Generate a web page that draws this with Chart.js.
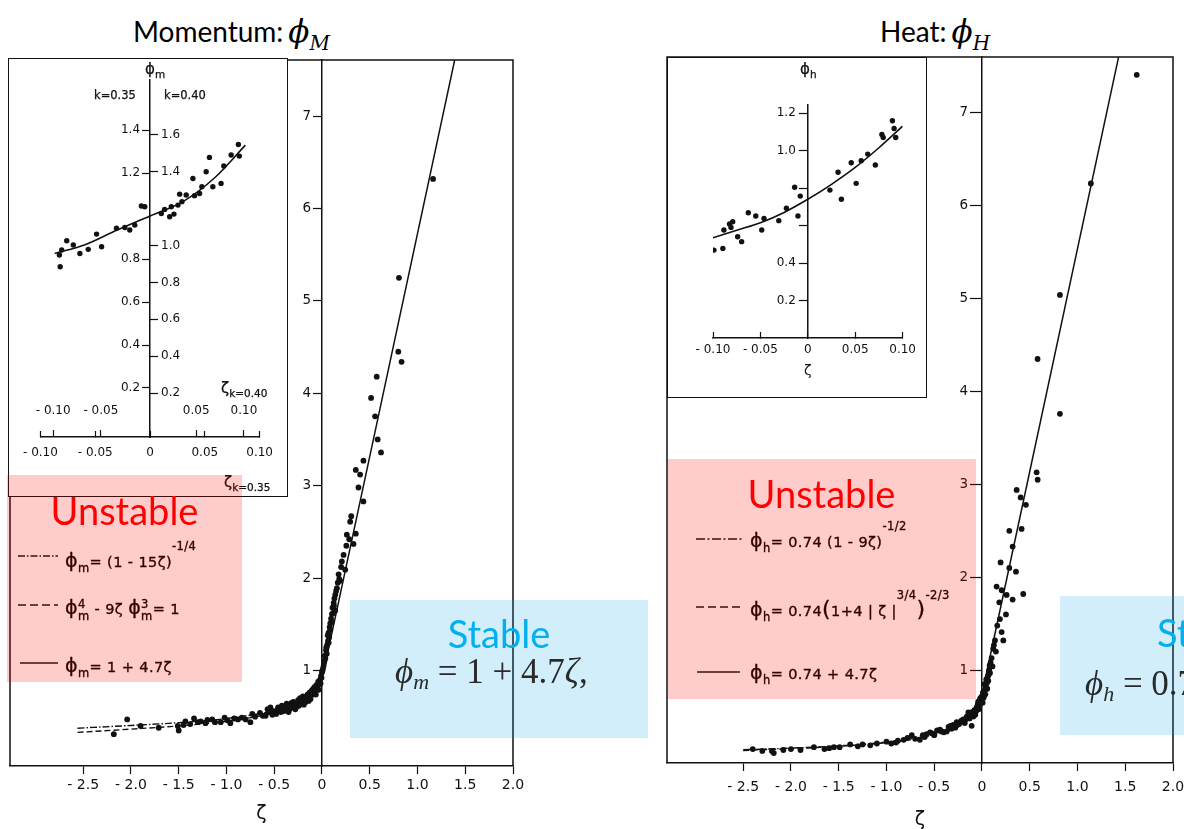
<!DOCTYPE html>
<html>
<head>
<meta charset="utf-8">
<title>Flux-profile relations</title>
<script src="https://cdn.jsdelivr.net/npm/chart.js@4.4.1/dist/chart.umd.min.js"></script>
<style>
  html, body { margin: 0; padding: 0; background: #fff; }
  body { position: relative; width: 1184px; height: 829px; overflow: hidden; font-family: 'DejaVu Sans', sans-serif; color: #111; }
  canvas, svg { position: absolute; }
  .box { position: absolute; box-sizing: border-box; border: 1.5px solid #111; background: #fff; }
  .title { position: absolute; font-family: Lato, sans-serif; font-size: 28px; line-height: 34px; white-space: nowrap; color: #000; }
  .title .v { font-family: 'DejaVu Serif', serif; font-style: italic; font-size: 31px; margin-left: 5px; }
  .title .s { font-family: 'DejaVu Serif', serif; font-style: italic; font-size: 20px; position: relative; top: 8px; }
  .txt { position: absolute; white-space: nowrap; line-height: 1; color: #111; -webkit-text-stroke: 0.25px #111; }
  .txt .ks { font-size: 10.5px; position: relative; top: 4px; }
  .lg { position: absolute; font-size: 14.5px; line-height: 20px; white-space: nowrap; letter-spacing: 0.4px; color: #000; -webkit-text-stroke: 0.35px #000; }
  .lg .f { font-size: 19px; }
  .lg .sb { font-size: 11.5px; position: relative; top: 5px; }
  .lg .sp { font-size: 11.5px; position: relative; top: -17px; }
  .lg .st { display: inline-block; font-size: 11.5px; line-height: 12px; vertical-align: middle; }
  .lg .pp { font-size: 22px; }
  .veil { position: absolute; }
  .pink { background: rgba(255, 0, 0, 0.2); }
  .blue { background: rgba(0, 160, 230, 0.18); }
  .big { position: absolute; font-family: Lato, sans-serif; font-size: 38px; line-height: 40px; text-align: center; white-space: nowrap; }
  .red { color: #ff0000; }
  .cyan { color: #00b0f0; }
  .eq { position: absolute; font-family: 'Liberation Serif', serif; font-size: 35px; line-height: 40px; color: #2a2a2a; white-space: nowrap; }
  .eq sub { font-size: 22px; vertical-align: -6px; line-height: 0; }
</style>
</head>
<body>

<div class="title" style="left:133px;top:14px">Momentum:<span class="v">ϕ</span><span class="s">M</span></div>
<div class="title" style="left:880px;top:14px">Heat:<span class="v">ϕ</span><span class="s">H</span></div>

<canvas id="momMain" width="600" height="829" style="left:0;top:0"></canvas>
<canvas id="heatMain" width="600" height="829" style="left:600px;top:0"></canvas>

<div class="box" style="left:8px;top:58px;width:280px;height:439px"></div>
<canvas id="momInset" width="280" height="439" style="left:8px;top:58px"></canvas>
<div class="box" style="left:667px;top:57px;width:260px;height:341px"></div>
<canvas id="heatInset" width="260" height="341" style="left:667px;top:57px"></canvas>

<!-- inset axis captions -->
<div class="txt" style="left:145px;top:62px;font-size:15px">ϕ<span class="ks">m</span></div>
<div class="txt" style="left:94px;top:90px;font-size:11.5px">k=0.35</div>
<div class="txt" style="left:164px;top:90px;font-size:11.5px">k=0.40</div>
<div class="txt" style="left:221px;top:381px;font-size:15px">ζ<span class="ks">k=0.40</span></div>
<div class="txt" style="left:224px;top:475px;font-size:15px">ζ<span class="ks">k=0.35</span></div>
<div class="txt" style="left:800px;top:62px;font-size:15px">ϕ<span class="ks">h</span></div>

<!-- legend line samples -->
<svg width="1184" height="829" style="left:0;top:0">
  <g stroke="#111" stroke-width="1.6" fill="none">
    <line x1="18" y1="556" x2="58" y2="556" stroke-dasharray="7 2 1.5 2"/>
    <line x1="18" y1="605" x2="58" y2="605" stroke-dasharray="8 4"/>
    <line x1="20" y1="663" x2="58" y2="663"/>
    <line x1="696" y1="539" x2="742" y2="539" stroke-dasharray="9 2.5 2 2.5"/>
    <line x1="696" y1="607" x2="742" y2="607" stroke-dasharray="8 4"/>
    <line x1="697" y1="672" x2="740" y2="672"/>
  </g>
</svg>

<div class="lg" style="left:65px;top:550px"><span class="f">ϕ</span><span class="sb">m</span>= (1 - 15ζ)<span class="sp">-1/4</span></div>
<div class="lg" style="left:65px;top:597px"><span class="f">ϕ</span><span class="st">4<br>m</span> - 9ζ <span class="f">ϕ</span><span class="st">3<br>m</span>= 1</div>
<div class="lg" style="left:65px;top:655px"><span class="f">ϕ</span><span class="sb">m</span>= 1 + 4.7ζ</div>

<div class="lg" style="left:750px;top:530px;font-size:14.5px"><span class="f">ϕ</span><span class="sb">h</span>= 0.74 (1 - 9ζ)<span class="sp">-1/2</span></div>
<div class="lg" style="left:750px;top:599px;font-size:14.5px"><span class="f">ϕ</span><span class="sb">h</span>= 0.74<span class="pp">(</span>1+4 | ζ |<span class="sp">3/4</span><span class="pp">)</span><span class="sp">-2/3</span></div>
<div class="lg" style="left:750px;top:662px;font-size:14.5px"><span class="f">ϕ</span><span class="sb">h</span>= 0.74 + 4.7ζ</div>

<div class="veil pink" style="left:7px;top:475px;width:235px;height:207px"></div>
<div class="veil pink" style="left:667px;top:459px;width:309px;height:240px"></div>
<div class="veil blue" style="left:350px;top:600px;width:298px;height:138px"></div>
<div class="veil blue" style="left:1060px;top:596px;width:298px;height:139px"></div>

<div class="big red" style="left:7px;top:490px;width:235px">Unstable</div>
<div class="big red" style="left:667px;top:473px;width:309px">Unstable</div>
<div class="big cyan" style="left:350px;top:613px;width:298px">Stable</div>
<div class="big cyan" style="left:1157px;top:612px">Stable</div>

<div class="eq" style="left:395px;top:652px"><i>ϕ</i><sub><i>m</i></sub> = 1 + 4.7<i>ζ</i>,</div>
<div class="eq" style="left:1085px;top:664px"><i>ϕ</i><sub><i>h</i></sub> = 0.74 + 4.7<i>ζ</i>,</div>

<script>
// ---- axis ticks ----
const mainTicks = [-2.5, -2.0, -1.5, -1.0, -0.5, 0, 0.5, 1.0, 1.5, 2.0];
const mainTickLabels = ['- 2.5', '- 2.0', '- 1.5', '- 1.0', '- 0.5', '0', '0.5', '1.0', '1.5', '2.0'];
const phiTicks = [1, 2, 3, 4, 5, 6, 7];
const phiTickLabels = ['1', '2', '3', '4', '5', '6', '7'];

const insetTicks = [-0.10, -0.05, 0, 0.05, 0.10];
const insetTickLabels = ['- 0.10', '- 0.05', '0', '0.05', '0.10'];
const insetTicks40 = [-0.10, -0.05, 0.05, 0.10];
const insetTickLabels40 = ['- 0.10', '- 0.05', '0.05', '0.10'];
const phiM35Ticks = [0.2, 0.4, 0.6, 0.8, 1.2, 1.4];
const phiM35Labels = ['0.2', '0.4', '0.6', '0.8', '1.2', '1.4'];
const phiM40Ticks = [0.2, 0.4, 0.6, 0.8, 1.0, 1.4, 1.6];
const phiM40Labels = ['0.2', '0.4', '0.6', '0.8', '1.0', '1.4', '1.6'];
const phiHTicks = [0.2, 0.4, 0.6, 0.8, 1.0, 1.2];
const phiHTickLabels = ['0.2', '0.4', '', '', '1.0', '1.2'];

// ---- momentum, main panel ----
const momZeta = [-2.18, -2.04, -1.90, -1.71, -1.51, -1.50, -1.45, -1.43, -1.38, -1.34, -1.30, -1.27,
  -1.22, -1.20, -1.15, -1.12, -1.06, -1.02, -0.99, -0.96, -0.92, -0.88, -0.84, -0.80,
  -0.75, -0.73, -0.70, -0.65, -0.62, -0.59, -0.57, -0.56, -0.54, -0.52, -0.51, -0.48,
  -0.47, -0.46, -0.44, -0.43, -0.42, -0.40, -0.39, -0.37, -0.36, -0.35, -0.34, -0.33, -0.32, -0.31, -0.30,
  -0.29, -0.28, -0.27, -0.26, -0.25, -0.24, -0.23, -0.22, -0.21, -0.20, -0.19, -0.18, -0.17, -0.16, -0.15, -0.15,
  -0.14, -0.13, -0.12, -0.12, -0.11, -0.10, -0.10, -0.09, -0.08, -0.08, -0.07, -0.065, -0.06, -0.05,
  -0.045, -0.04, -0.035, -0.03, -0.025, -0.02, -0.015, -0.01, -0.005, 0.00,
  0.005, 0.01, 0.017, 0.02, 0.025, 0.03, 0.035, 0.042, 0.045, 0.05, 0.055, 0.06, 0.063, 0.069, 0.07, 0.075,
  0.08, 0.085, 0.087, 0.095, 0.10, 0.104, 0.11, 0.115, 0.122, 0.125, 0.13, 0.139, 0.139, 0.148,
  0.156, 0.165, 0.174, 0.18, 0.191, 0.20, 0.208, 0.226, 0.243, 0.255,
  0.26, 0.285, 0.295, 0.306, 0.33, 0.354, 0.354, 0.382, 0.399, 0.434,
  0.434, 0.514, 0.556, 0.573, 0.583, 0.618, 0.799, 0.806, 0.833, 1.163];
const momPhi = [0.31, 0.47, 0.40, 0.38, 0.40, 0.35, 0.41, 0.45, 0.42, 0.48, 0.44, 0.45,
  0.43, 0.465, 0.47, 0.44, 0.44, 0.49, 0.46, 0.43, 0.48, 0.47, 0.49, 0.47,
  0.44, 0.53, 0.50, 0.54, 0.51, 0.51, 0.58, 0.55, 0.60, 0.52, 0.56, 0.53,
  0.57, 0.60, 0.58, 0.55, 0.62, 0.56, 0.60, 0.64, 0.62, 0.55, 0.58, 0.61, 0.65, 0.60, 0.66,
  0.62, 0.58, 0.64, 0.61, 0.68, 0.62, 0.70, 0.64, 0.66, 0.72, 0.63, 0.69, 0.66, 0.71, 0.74, 0.70,
  0.67, 0.76, 0.72, 0.69, 0.78, 0.74, 0.79, 0.80, 0.76, 0.82, 0.78, 0.74, 0.84, 0.80,
  0.83, 0.88, 0.79, 0.85, 0.87, 0.90, 0.86, 0.94, 0.92, 0.98,
  1.00, 1.02, 1.05, 1.08, 1.10, 1.16, 1.13, 1.22, 1.25, 1.18, 1.28, 1.38, 1.32, 1.41, 1.30, 1.36,
  1.47, 1.44, 1.51, 1.56, 1.52, 1.61, 1.68, 1.62, 1.73, 1.70, 1.78, 1.65, 1.82, 1.86,
  1.89, 1.95, 2.04, 1.99, 1.97, 2.12, 2.18, 2.25, 2.09, 2.35,
  2.47, 2.42, 2.61, 2.67, 2.37, 2.48, 3.17, 2.98, 3.12, 3.27,
  2.83, 3.95, 3.75, 4.18, 3.50, 3.36, 4.45, 5.25, 4.34, 6.32];

const momCurveZeta = [-2.56, -2.0, -1.5, -1.0, -0.5, -0.25, -0.1, -0.03, 0];
const momDashDotPhi = [0.375, 0.405, 0.435, 0.48, 0.565, 0.64, 0.75, 0.86, 0.97];
const momDashPhi = [0.33, 0.365, 0.40, 0.45, 0.54, 0.62, 0.74, 0.86, 0.97];
const momLineZeta = [0.02, 1.39];
const momLinePhi = [1.0, 7.61];

// ---- heat, main panel ----
const heatZeta = [-2.40, -2.30, -2.20, -2.18, -2.08, -2.00, -1.90, -1.76, -1.65, -1.60, -1.55, -1.49,
  -1.38, -1.30, -1.25, -1.17, -1.10, -1.00, -0.95, -0.90, -0.88, -0.82, -0.78, -0.735,
  -0.70, -0.65, -0.62, -0.60, -0.58, -0.544, -0.52, -0.50, -0.47, -0.44, -0.42, -0.40, -0.37,
  -0.35, -0.33, -0.32, -0.30, -0.28, -0.265, -0.26, -0.24, -0.22, -0.21, -0.195, -0.18, -0.17, -0.16,
  -0.143, -0.13, -0.12, -0.108, -0.10, -0.09, -0.08, -0.07, -0.06, -0.056, -0.045, -0.04, -0.035, -0.025, -0.02,
  -0.015, -0.01, 0.00,
  0.007, 0.01, 0.015, 0.021, 0.025, 0.03, 0.035, 0.042, 0.045, 0.05, 0.055, 0.06, 0.066, 0.07, 0.075, 0.08, 0.084,
  0.09, 0.101, 0.11, 0.118, 0.125, 0.136, 0.146, 0.153, 0.16, 0.181,
  0.188, 0.195, 0.206, 0.206, 0.223, 0.251, 0.258, 0.286, 0.286, 0.321,
  0.321, 0.356, 0.363, 0.405, 0.415, 0.432, 0.46, 0.572, 0.582, 0.583,
  0.816, 0.816, 1.14, 1.62];
const heatPhi = [0.15, 0.13, 0.13, 0.107, 0.14, 0.15, 0.14, 0.17, 0.15, 0.16, 0.17, 0.17,
  0.20, 0.18, 0.20, 0.19, 0.21, 0.23, 0.21, 0.22, 0.24, 0.25, 0.27, 0.30,
  0.26, 0.25, 0.30, 0.28, 0.31, 0.33, 0.32, 0.30, 0.35, 0.36, 0.34, 0.33, 0.34,
  0.39, 0.40, 0.37, 0.41, 0.38, 0.44, 0.41, 0.42, 0.45, 0.46, 0.47, 0.43, 0.47, 0.50,
  0.545, 0.48, 0.52, 0.40, 0.55, 0.50, 0.57, 0.52, 0.56, 0.60, 0.63, 0.66, 0.58, 0.62, 0.69,
  0.70, 0.66, 0.72,
  0.65, 0.76, 0.70, 0.72, 0.85, 0.78, 0.74, 0.81, 0.90, 0.86, 0.80, 0.93, 0.885, 0.95, 1.00, 1.05, 0.97,
  1.08, 1.13, 1.04, 1.23, 1.27, 1.32, 1.20, 1.90, 1.48, 1.73,
  1.55, 2.16, 1.86, 1.41, 1.32, 1.60, 1.81, 2.10, 2.50, 1.76,
  2.33, 2.06, 2.94, 2.86, 2.52, 1.82, 2.78, 3.13, 4.35, 3.05,
  3.76, 5.04, 6.24, 7.41];

const heatCurveZeta = [-2.5, -2.0, -1.5, -1.0, -0.5, -0.25, -0.1, -0.03, 0];
const heatDashDotPhi = [0.143, 0.16, 0.185, 0.225, 0.31, 0.40, 0.53, 0.64, 0.74];
const heatDashPhi = [0.135, 0.155, 0.18, 0.22, 0.30, 0.39, 0.52, 0.63, 0.74];
const heatLineZeta = [0, 1.43];
const heatLinePhi = [0.74, 7.6];

// ---- momentum inset (k = 0.35 axes) ----
const mInZeta = [-0.0827, -0.082, -0.0806, -0.076, -0.070, -0.064, -0.0564, -0.0488, -0.0442, -0.0306,
  -0.023, -0.0185, -0.0139, -0.0079, -0.0048, 0.0103, 0.0133, 0.0179, 0.0194, 0.0218,
  0.0255, 0.0291, 0.027, 0.033, 0.0391, 0.0406, 0.0452, 0.0473, 0.0512, 0.0542,
  0.0573, 0.0648, 0.0673, 0.074, 0.0806, 0.0815];
const mInPhi = [0.819, 0.764, 0.842, 0.885, 0.865, 0.826, 0.845, 0.916, 0.857, 0.943,
  0.947, 0.935, 0.958, 1.047, 1.043, 1.012, 1.031, 0.997, 1.043, 1.009,
  1.051, 1.067, 1.102, 1.098, 1.175, 1.095, 1.105, 1.136, 1.206, 1.273,
  1.136, 1.152, 1.233, 1.284, 1.333, 1.279];
const mInCurveZeta = [-0.087, -0.06, -0.03, 0, 0.03, 0.06, 0.087];
const mInCurvePhi = [0.826, 0.865, 0.935, 1.0, 1.067, 1.183, 1.33];

// ---- heat inset ----
const hInZeta = [-0.099, -0.0896, -0.0885, -0.0826, -0.0792, -0.081, -0.074, -0.0698, -0.0628, -0.0549,
  -0.0486, -0.0462, -0.0306, -0.0226, -0.0139, -0.0104, -0.008, 0.0233, 0.0319, 0.0354,
  0.0458, 0.051, 0.0563, 0.0632, 0.0712, 0.0781, 0.0795, 0.0892, 0.091, 0.0927];
const hInPhi = [0.469, 0.478, 0.576, 0.608, 0.620, 0.590, 0.540, 0.514, 0.668, 0.651,
  0.576, 0.638, 0.626, 0.692, 0.804, 0.651, 0.757, 0.789, 0.884, 0.740,
  0.935, 0.825, 0.946, 0.981, 0.923, 1.086, 1.070, 1.159, 1.118, 1.070];
const hInCurveZeta = [-0.1, -0.075, -0.05, -0.025, 0, 0.025, 0.05, 0.075, 0.1];
const hInCurvePhi = [0.535, 0.575, 0.615, 0.67, 0.74, 0.82, 0.91, 1.015, 1.13];

const INK = '#111';
Chart.defaults.font.family = "'DejaVu Sans', sans-serif";
Chart.defaults.color = INK;

const pts = (xs, ys) => xs.map((x, i) => ({ x: x, y: ys[i] }));
const fixedTicks = values => s => { s.ticks = values.map(v => ({ value: v })); };
const labelsFrom = list => (v, i) => list[i];

function dots(xs, ys, r) {
  return { data: pts(xs, ys), showLine: false, pointRadius: r, pointBackgroundColor: INK, pointBorderWidth: 0 };
}
function curve(xs, ys, dash, w) {
  return { data: pts(xs, ys), showLine: true, pointRadius: 0, borderColor: INK, borderWidth: w || 1.4,
    borderDash: dash, tension: 0.4, cubicInterpolationMode: 'monotone' };
}

// y axes sit on zeta = 0, the k=0.40 x axis sits on the bottom axis line.
// Each keeps a label strip, since scale labels are clipped to the scale box.
const axisMover = {
  id: 'axisMover',
  afterLayout(chart) {
    const px = chart.scales.x.getPixelForValue(0);
    const y = chart.scales.y;
    if (y) { y.left = px - 60; y.right = px; y.width = 60; }
    const y2 = chart.scales.y2;
    if (y2) { y2.left = px; y2.right = px + 60; y2.width = 60; }
    const x2 = chart.scales.x2;
    if (x2) {
      const b = chart.chartArea.bottom;
      x2.top = b - 40; x2.bottom = b; x2.height = 40;
    }
  }
};

// open frame on left, top and right of the plot area
const frame = {
  id: 'frame',
  afterDraw(chart, args, opts) {
    if (!opts.show) return;
    const { ctx, chartArea: a } = chart;
    ctx.save();
    ctx.strokeStyle = INK;
    ctx.lineWidth = 1.5;
    ctx.beginPath();
    ctx.moveTo(a.left, a.bottom);
    ctx.lineTo(a.left, a.top);
    ctx.lineTo(a.right, a.top);
    ctx.lineTo(a.right, a.bottom);
    ctx.stroke();
    ctx.restore();
  }
};

function tickAxis(o) {
  return {
    type: 'linear',
    position: o.position,
    axis: o.axis,
    min: o.min,
    max: o.max,
    afterBuildTicks: fixedTicks(o.ticks),
    afterFit: o.fit,
    ticks: { autoSkip: false, maxRotation: 0, padding: o.pad, color: INK, font: { size: o.size },
      callback: labelsFrom(o.labels) },
    grid: { drawOnChartArea: false, tickLength: o.tick, tickWidth: 1.2, tickColor: INK },
    border: o.border === false ? { display: false } : { color: INK, width: 1.5 },
    title: o.title || { display: false }
  };
}

function mainChart(id, o) {
  return new Chart(document.getElementById(id), {
    type: 'scatter',
    data: { datasets: o.datasets },
    options: {
      responsive: false,
      animation: false,
      events: [],
      layout: { padding: o.padding },
      plugins: { legend: { display: false }, tooltip: { enabled: false }, frame: { show: true } },
      scales: {
        x: tickAxis({ position: 'bottom', min: o.xMin, max: 2.0, ticks: mainTicks, labels: mainTickLabels,
          fit: s => { s.height = o.xHeight; }, pad: o.xPad, size: 14, tick: 8,
          title: { display: true, text: 'ζ', color: INK, font: { size: 19 }, padding: { top: 0, bottom: o.titlePad } } }),
        y: tickAxis({ position: 'left', min: o.yMin, max: o.yMax, ticks: phiTicks, labels: phiTickLabels,
          fit: s => { s.width = 0; }, pad: 2, size: 13.5, tick: o.yTick })
      }
    },
    plugins: [axisMover, frame]
  });
}

mainChart('momMain', {
  padding: { left: 10, right: 87, top: 60, bottom: 0 },
  xMin: -3.267, yMin: -0.034, yMax: 7.607, xHeight: 63, xPad: 3, titlePad: 4, yTick: 9,
  datasets: [
    dots(momZeta, momPhi, 2.9),
    curve(momCurveZeta, momDashDotPhi, [7, 2, 1.5, 2]),
    curve(momCurveZeta, momDashPhi, [6, 3]),
    curve(momLineZeta, momLinePhi, [], 1.5)
  ]
});

mainChart('heatMain', {
  padding: { left: 67, right: 27, top: 57, bottom: 0 },
  xMin: -3.298, yMin: 0.0, yMax: 7.602, xHeight: 66, xPad: 8, titlePad: -2, yTick: 12,
  datasets: [
    dots(heatZeta, heatPhi, 2.9),
    curve(heatCurveZeta, heatDashDotPhi, [7, 2, 1.5, 2]),
    curve(heatCurveZeta, heatDashPhi, [6, 3]),
    curve(heatLineZeta, heatLinePhi, [], 1.5)
  ]
});

new Chart(document.getElementById('momInset'), {
  type: 'scatter',
  data: { datasets: [dots(mInZeta, mInPhi, 2.7), curve(mInCurveZeta, mInCurvePhi, [], 1.6)] },
  options: {
    responsive: false,
    animation: false,
    events: [],
    layout: { padding: { left: 32, right: 25, top: 22, bottom: 0 } },
    plugins: { legend: { display: false }, tooltip: { enabled: false } },
    scales: {
      x: tickAxis({ position: 'bottom', min: -0.1, max: 0.1, ticks: insetTicks, labels: insetTickLabels,
        fit: s => { s.height = 60; }, pad: 15, size: 12, tick: -6 }),
      x2: tickAxis({ position: 'top', axis: 'x', min: -0.1134, max: 0.1165, ticks: insetTicks40, labels: insetTickLabels40,
        fit: s => { s.height = 0; }, pad: 12, size: 12, tick: 7, border: false }),
      y: tickAxis({ position: 'left', min: -0.028, max: 1.633, ticks: phiM35Ticks, labels: phiM35Labels,
        fit: s => { s.width = 0; }, pad: 2, size: 12, tick: 8 }),
      y2: tickAxis({ position: 'right', axis: 'y', min: -0.0385, max: 1.898, ticks: phiM40Ticks, labels: phiM40Labels,
        fit: s => { s.width = 0; }, pad: 3, size: 12, tick: 8, border: false })
    }
  },
  plugins: [axisMover]
});

new Chart(document.getElementById('heatInset'), {
  type: 'scatter',
  data: { datasets: [dots(hInZeta, hInPhi, 2.7), curve(hInCurveZeta, hInCurvePhi, [], 1.6)] },
  options: {
    responsive: false,
    animation: false,
    events: [],
    layout: { padding: { left: 46, right: 22, top: 48, bottom: 0 } },
    plugins: { legend: { display: false }, tooltip: { enabled: false } },
    scales: {
      x: tickAxis({ position: 'bottom', min: -0.1, max: 0.1, ticks: insetTicks, labels: insetTickLabels,
        fit: s => { s.height = 60; }, pad: 11, size: 12, tick: -6,
        title: { display: true, text: 'ζ', color: INK, font: { size: 14 }, padding: { top: 0, bottom: 18 } } }),
      y: tickAxis({ position: 'left', min: 0, max: 1.243, ticks: phiHTicks, labels: phiHTickLabels,
        fit: s => { s.width = 0; }, pad: 3, size: 12, tick: 9 })
    }
  },
  plugins: [axisMover]
});
</script>
</body>
</html>
